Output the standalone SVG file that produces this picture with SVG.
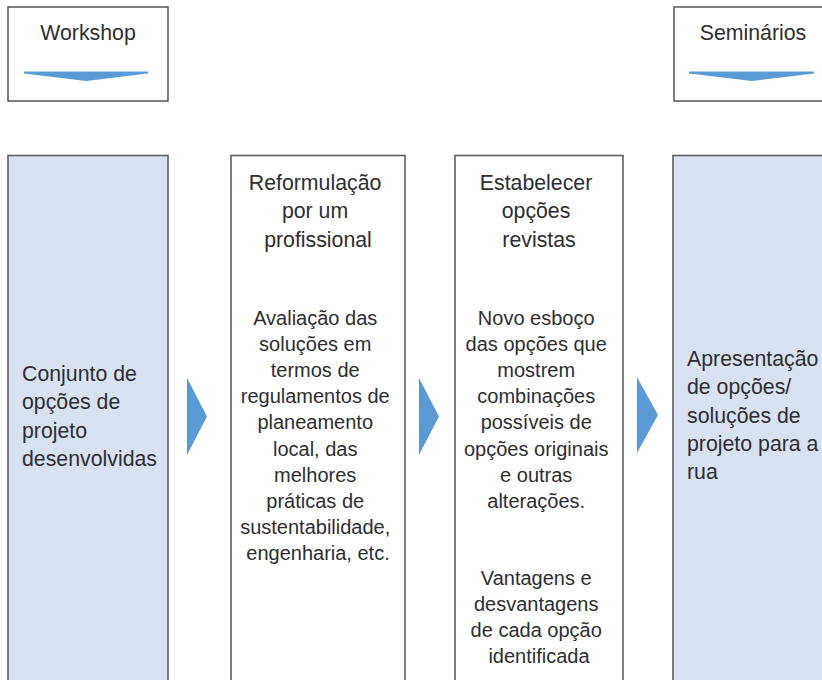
<svg xmlns="http://www.w3.org/2000/svg" width="822" height="680" viewBox="0 0 822 680">
  <style>
    .box { fill: #ffffff; stroke: #5f5f5f; stroke-width: 1.6; }
    .blue { fill: #d9e2f3; stroke: #5f5f5f; stroke-width: 1.6; }
    .arr { fill: #5b9bd5; }
    text { font-family: "Liberation Sans", Arial, sans-serif; fill: #2e2e2e; }
    .h { font-size: 21.3px; }
    .b { font-size: 20px; }
    .c { text-anchor: middle; }
  </style>
  <rect width="822" height="680" fill="#ffffff"/>

  <g id="workshop">
    <rect class="box" x="8" y="7" width="160" height="94"/>
    <text class="h c" x="88" y="40">Workshop</text>
    <path class="arr" d="M24,71.5 L148,71.5 L148,73.5 L86,81 L24,73.5 Z"/>
  </g>

  <g id="seminarios">
    <rect class="box" x="674" y="7" width="160" height="94"/>
    <text class="h c" x="753" y="40">Seminários</text>
    <path class="arr" d="M689,71.5 L814,71.5 L814,73.5 L752,81 L689,73.5 Z"/>
  </g>

  <g id="col1">
    <rect class="blue" x="8" y="155.5" width="160" height="540"/>
    <text class="h" x="22">
      <tspan x="22" y="381">Conjunto de</tspan>
      <tspan x="22" y="409.3">opções de</tspan>
      <tspan x="22" y="437.6">projeto</tspan>
      <tspan x="22" y="465.9">desenvolvidas</tspan>
    </text>
  </g>

  <g id="col2">
    <rect class="box" x="231" y="155.5" width="174" height="540"/>
    <text class="h c">
      <tspan x="318" y="190">Reformulação</tspan>
      <tspan x="318" y="218.3">por um</tspan>
      <tspan x="318" y="246.6">profissional</tspan>
    </text>
    <text class="b c">
      <tspan x="318" y="325">Avaliação das</tspan>
      <tspan x="318" y="351.1">soluções em</tspan>
      <tspan x="318" y="377.2">termos de</tspan>
      <tspan x="318" y="403.3">regulamentos de</tspan>
      <tspan x="318" y="429.4">planeamento</tspan>
      <tspan x="318" y="455.5">local, das</tspan>
      <tspan x="318" y="481.6">melhores</tspan>
      <tspan x="318" y="507.7">práticas de</tspan>
      <tspan x="318" y="533.8">sustentabilidade,</tspan>
      <tspan x="318" y="559.9">engenharia, etc.</tspan>
    </text>
  </g>

  <g id="col3">
    <rect class="box" x="455" y="155.5" width="168" height="540"/>
    <text class="h c">
      <tspan x="539" y="190">Estabelecer</tspan>
      <tspan x="539" y="218.3">opções</tspan>
      <tspan x="539" y="246.6">revistas</tspan>
    </text>
    <text class="b c">
      <tspan x="539" y="325">Novo esboço</tspan>
      <tspan x="539" y="351.1">das opções que</tspan>
      <tspan x="539" y="377.2">mostrem</tspan>
      <tspan x="539" y="403.3">combinações</tspan>
      <tspan x="539" y="429.4">possíveis de</tspan>
      <tspan x="539" y="455.5">opções originais</tspan>
      <tspan x="539" y="481.6">e outras</tspan>
      <tspan x="539" y="507.7">alterações.</tspan>
      <tspan x="539" y="585">Vantagens e</tspan>
      <tspan x="539" y="611">desvantagens</tspan>
      <tspan x="539" y="637">de cada opção</tspan>
      <tspan x="539" y="663">identificada</tspan>
    </text>
  </g>

  <g id="col4">
    <rect class="blue" x="673" y="155.5" width="170" height="540"/>
    <text class="h">
      <tspan x="687" y="366">Apresentação</tspan>
      <tspan x="687" y="394.3">de opções/</tspan>
      <tspan x="687" y="422.6">soluções de</tspan>
      <tspan x="687" y="450.9">projeto para a</tspan>
      <tspan x="687" y="479.2">rua</tspan>
    </text>
  </g>

  <g id="connectors">
    <polygon class="arr" points="187,378 207,416.5 187,455"/>
    <polygon class="arr" points="419,378 439,416.5 419,455"/>
    <polygon class="arr" points="637,377 658,415 637,453"/>
  </g>
</svg>
